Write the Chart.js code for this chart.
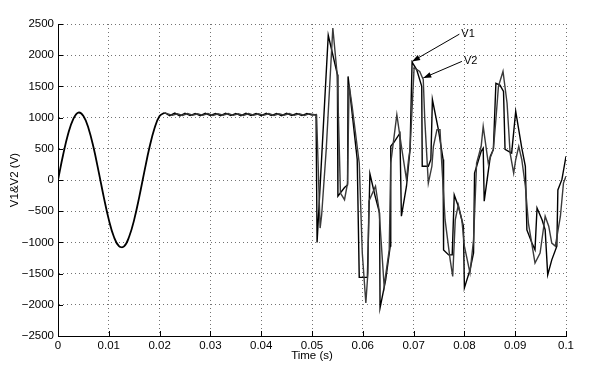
<!DOCTYPE html>
<html>
<head>
<meta charset="utf-8">
<script src="https://cdn.jsdelivr.net/npm/chart.js@4/dist/chart.umd.min.js"></script>
<style>
	body { margin: 0; background: #fff; }
	canvas { display: block; }
</style>
</head>
<body>
<canvas id="graficoTensao" width="600" height="377"></canvas>
<script>
// eixos
var xTicks = [0, 0.01, 0.02, 0.03, 0.04, 0.05, 0.06, 0.07, 0.08, 0.09, 0.1];
var xTickLabels = ['0', '0.01', '0.02', '0.03', '0.04', '0.05', '0.06', '0.07', '0.08', '0.09', '0.1'];
var yTicks = [-2500, -2000, -1500, -1000, -500, 0, 500, 1000, 1500, 2000, 2500];
var yTickLabels = ['\u22122500', '\u22122000', '\u22121500', '\u22121000', '\u2212500', '0', '500', '1000', '1500', '2000', '2500'];

// trecho senoidal (V1 e V2 iguais)
var senoTime = [0, 0.001, 0.002, 0.003, 0.004, 0.005, 0.006, 0.007, 0.008, 0.009, 0.010,
	0.011, 0.012, 0.013, 0.014, 0.015, 0.016, 0.017, 0.018, 0.019, 0.020, 0.021];
var senoVolt = [0, 400, 740, 975, 1080, 1025, 830, 520, 135, -270, -635,
	-910, -1060, -1065, -910, -635, -270, 135, 520, 830, 1025, 1078];

// V1
var v1Time = [0.021, 0.022, 0.023, 0.024, 0.025, 0.026, 0.027, 0.028, 0.029, 0.030,
	0.031, 0.032, 0.033, 0.034, 0.035, 0.036, 0.037, 0.038, 0.039, 0.040,
	0.041, 0.042, 0.043, 0.044, 0.045, 0.046, 0.047, 0.048, 0.049, 0.050,
	0.0508, 0.0510, 0.0532, 0.0550, 0.0551, 0.0564, 0.0570, 0.0571, 0.0580, 0.0589,
	0.0593, 0.0609, 0.0614, 0.0624, 0.0633, 0.0634, 0.0645, 0.0654, 0.0655, 0.0661,
	0.0673, 0.0676, 0.0686, 0.0693, 0.0697, 0.0706, 0.0716, 0.0717, 0.0729, 0.0734,
	0.0737, 0.0749, 0.0758, 0.0759, 0.0769, 0.0776, 0.0780, 0.0788, 0.0798, 0.0800,
	0.0811, 0.0818, 0.0820, 0.0833, 0.0837, 0.0839, 0.0851, 0.0857, 0.0862, 0.0870,
	0.0877, 0.0880, 0.0893, 0.0901, 0.0913, 0.0920, 0.0923, 0.0933, 0.0939, 0.0943,
	0.0953, 0.0959, 0.0964, 0.0972, 0.0982, 0.0984, 0.0992, 0.1000];
var v1Volt = [1078, 1030, 1072, 1028, 1070, 1032, 1066, 1030, 1068, 1034,
	1066, 1030, 1070, 1032, 1066, 1030, 1068, 1034, 1066, 1030,
	1070, 1032, 1066, 1030, 1068, 1034, 1064, 1032, 1066, 1040,
	1050, -1000, 2320, 1690, -260, -120, -80, 1660, 1000, 330,
	-1560, -1560, 100, -250, -530, -2050, -1600, -1060, 540, 600,
	750, -580, -100, 490, 1890, 1770, 1500, 220, 220, 330,
	1290, 800, 330, -1120, -1200, -1200, -240, -420, -740, -1730,
	-1440, -1170, 110, 460, 510, -340, 380, 490, 1550, 1520,
	1420, 490, 430, 1100, 510, 220, -800, -1010, -1120, -450,
	-640, -800, -1520, -1280, -1060, -160, 10, 380];

// V2
var v2Time = [0.021, 0.0215, 0.0225, 0.0235, 0.0245, 0.0255, 0.0265, 0.0275, 0.0285, 0.0295,
	0.0305, 0.0315, 0.0325, 0.0335, 0.0345, 0.0355, 0.0365, 0.0375, 0.0385, 0.0395,
	0.0405, 0.0415, 0.0425, 0.0435, 0.0445, 0.0455, 0.0465, 0.0475, 0.0485, 0.0495, 0.0505,
	0.0509, 0.0516, 0.0519, 0.0528, 0.0541, 0.0550, 0.0556, 0.0564, 0.0570, 0.0573,
	0.0579, 0.0593, 0.0599, 0.0606, 0.0610, 0.0612, 0.0625, 0.0632, 0.0642, 0.0652,
	0.0655, 0.0667, 0.0676, 0.0686, 0.0690, 0.0693, 0.0701, 0.0712, 0.0719, 0.0722,
	0.0729, 0.0736, 0.0739, 0.0746, 0.0752, 0.0755, 0.0762, 0.0772, 0.0777, 0.0782,
	0.0788, 0.0795, 0.0800, 0.0811, 0.0818, 0.0824, 0.0833, 0.0837, 0.0847, 0.0857,
	0.0862, 0.0867, 0.0876, 0.0884, 0.0890, 0.0897, 0.0901, 0.0907, 0.0913, 0.0920,
	0.0926, 0.0939, 0.0949, 0.0959, 0.0966, 0.0972, 0.0979, 0.0989, 0.0995, 0.1000];
var v2Volt = [1078, 1064, 1036, 1062, 1034, 1066, 1038, 1062, 1036, 1064,
	1034, 1062, 1038, 1066, 1036, 1062, 1034, 1064, 1038, 1062,
	1036, 1066, 1034, 1062, 1038, 1064, 1036, 1062, 1034, 1064, 1045,
	1040, -770, -560, 490, 2435, 1650, -210, -316, -50, 1530,
	1180, 270, -1170, -1970, -1490, -340, -100, -480, -1700, -1120,
	270, 1047, 540, 5, 325, 490, 1800, 1740, 1610, 970,
	-50, 220, 540, 806, 806, 325, -640, -1280, -1545, -640,
	-400, -640, -1060, -1490, -960, 270, 540, 860, 270, 490,
	970, 1500, 1740, 1230, 430, 110, 325, 540, 325, -100,
	-690, -1330, -1170, -580, -740, -1010, -1060, -580, -50, 60];

// setas com os nomes das curvas
var notaTexto = ['V1', 'V2'];
var notaTextoTime = [0.0794, 0.0799];
var notaTextoVolt = [2337, 1901];
var notaPontaTime = [0.0697, 0.0719];
var notaPontaVolt = [1900, 1635];

var fonte = { family: '"Liberation Sans", Arial, sans-serif', size: 11.5 };

function pares(tempos, valores) {
	return tempos.map(function(t, i) {
		return { x: t, y: valores[i] };
	});
}

var marcasInternas = {
	id: 'marcasInternas',
	afterDraw: function(chart) {
		var c = chart.ctx;
		var area = chart.chartArea;
		var sx = chart.scales.x;
		var sy = chart.scales.y;
		c.save();
		c.strokeStyle = '#000';
		c.lineWidth = 1;
		c.beginPath();
		xTicks.forEach(function(v) {
			var px = Math.round(sx.getPixelForValue(v)) + 0.5;
			c.moveTo(px, area.bottom);
			c.lineTo(px, area.bottom - 5);
		});
		yTicks.forEach(function(v) {
			var py = Math.round(sy.getPixelForValue(v)) + 0.5;
			c.moveTo(area.left, py);
			c.lineTo(area.left + 5, py);
		});
		c.stroke();
		c.restore();
	}
};

var setas = {
	id: 'setas',
	afterDraw: function(chart) {
		var c = chart.ctx;
		var sx = chart.scales.x;
		var sy = chart.scales.y;
		c.save();
		c.strokeStyle = '#000';
		c.fillStyle = '#000';
		c.lineWidth = 1;
		c.font = '11px ' + fonte.family;
		c.textBaseline = 'middle';
		notaTexto.forEach(function(txt, i) {
			var tx = sx.getPixelForValue(notaTextoTime[i]);
			var ty = sy.getPixelForValue(notaTextoVolt[i]);
			var px = sx.getPixelForValue(notaPontaTime[i]);
			var py = sy.getPixelForValue(notaPontaVolt[i]);
			var ang = Math.atan2(py - ty, px - tx);
			c.beginPath();
			c.moveTo(tx - 2, ty);
			c.lineTo(px, py);
			c.stroke();
			c.beginPath();
			c.moveTo(px, py);
			c.lineTo(px - 8 * Math.cos(ang) + 2.8 * Math.sin(ang), py - 8 * Math.sin(ang) - 2.8 * Math.cos(ang));
			c.lineTo(px - 8 * Math.cos(ang) - 2.8 * Math.sin(ang), py - 8 * Math.sin(ang) + 2.8 * Math.cos(ang));
			c.closePath();
			c.fill();
			c.fillText(txt, tx, ty);
		});
		c.restore();
	}
};

var grade = {
	color: 'rgba(0,0,0,0.55)',
	lineWidth: 1,
	drawTicks: false
};
var borda = { display: true, color: '#000', width: 1, dash: [1, 3] };

var grafico = new Chart(document.getElementById('graficoTensao'), {
	type: 'line',
	data: {
		datasets: [
			{
				label: 'V2',
				data: pares(v2Time, v2Volt),
				borderColor: '#3a3a3a',
				borderWidth: 1.4,
				pointRadius: 0,
				tension: 0
			},
			{
				label: 'V1',
				data: pares(v1Time, v1Volt),
				borderColor: '#000',
				borderWidth: 1.4,
				pointRadius: 0,
				tension: 0
			},
			{
				label: 'V1&V2',
				data: pares(senoTime, senoVolt),
				borderColor: '#000',
				borderWidth: 1.8,
				pointRadius: 0,
				tension: 0.4
			}
		]
	},
	options: {
		responsive: false,
		animation: false,
		events: [],
		layout: { padding: { top: 24, right: 34, left: 0, bottom: 0 } },
		plugins: {
			legend: { display: false },
			tooltip: { enabled: false }
		},
		scales: {
			x: {
				type: 'linear',
				min: 0,
				max: 0.1,
				afterBuildTicks: function(s) {
					s.ticks = xTicks.map(function(v) { return { value: v }; });
				},
				afterFit: function(s) { s.height = 41; },
				ticks: {
					color: '#000',
					font: fonte,
					padding: 3,
					maxRotation: 0,
					autoSkip: false,
					callback: function(v, i) { return xTickLabels[i]; }
				},
				grid: grade,
				border: borda,
				title: {
					display: true,
					text: 'Time (s)',
					color: '#000',
					font: fonte,
					padding: { top: 0, bottom: 14 }
				}
			},
			y: {
				min: -2500,
				max: 2500,
				afterBuildTicks: function(s) {
					s.ticks = yTicks.map(function(v) { return { value: v }; });
				},
				afterFit: function(s) { s.width = 58; },
				ticks: {
					color: '#000',
					font: fonte,
					padding: 4,
					autoSkip: false,
					callback: function(v, i) { return yTickLabels[i]; }
				},
				grid: grade,
				border: borda,
				title: {
					display: true,
					text: 'V1&V2 (V)',
					color: '#000',
					font: fonte,
					padding: { top: 8, bottom: 0 }
				}
			}
		}
	},
	plugins: [marcasInternas, setas]
});
</script>
</body>
</html>
